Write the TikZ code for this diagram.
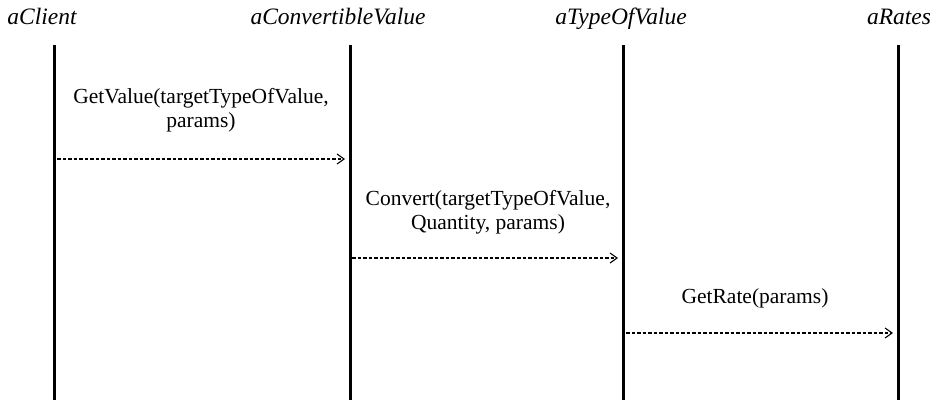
\documentclass[tikz,border=0pt]{standalone}
\usepackage{fontspec}
\setmainfont{Liberation Serif}
\usetikzlibrary{arrows.meta}
\begin{document}
\begin{tikzpicture}[x=1pt,y=-1pt,
  obj/.style={font=\fontsize{23.5}{26}\selectfont\itshape, inner sep=0pt, anchor=base},
  life/.style={line width=3pt},
  msg/.style={dash pattern=on 3.5pt off 2pt, line width=1.1pt, -{Straight Barb[length=7pt,width=10pt,line width=1.1pt]}},
  lbl/.style={font=\fontsize{21.5}{24}\selectfont, align=center, inner sep=0pt, anchor=base}]
\useasboundingbox (0,0) rectangle (938,400);
\node[obj] (h1) at (42,24) {aClient};
\node[obj] (h2) at (338,24) {aConvertibleValue};
\node[obj] (h3) at (621,24) {aTypeOfValue};
\node[obj] (h4) at (899,24) {aRates};
\coordinate (t1) at (54,45); \coordinate (b1) at (54,400);
\coordinate (t2) at (350,45); \coordinate (b2) at (350,400);
\coordinate (t3) at (623,45); \coordinate (b3) at (623,400);
\coordinate (t4) at (898,45); \coordinate (b4) at (898,400);
\draw[life] (t1) -- (b1);
\draw[life] (t2) -- (b2);
\draw[life] (t3) -- (b3);
\draw[life] (t4) -- (b4);
\coordinate (m1s) at (57,159); \coordinate (m1e) at (345,159);
\coordinate (m2s) at (352,258); \coordinate (m2e) at (618,258);
\coordinate (m3s) at (626,333); \coordinate (m3e) at (893,333);
\draw[msg] (m1s) -- (m1e);
\draw[msg] (m2s) -- (m2e);
\draw[msg] (m3s) -- (m3e);
\node[lbl] (l1) at (201,127) {GetValue(targetTypeOfValue,\\params)};
\node[lbl] (l2) at (488,229) {Convert(targetTypeOfValue,\\Quantity, params)};
\node[lbl] (l3) at (755,303) {GetRate(params)};
\end{tikzpicture}
\end{document}
